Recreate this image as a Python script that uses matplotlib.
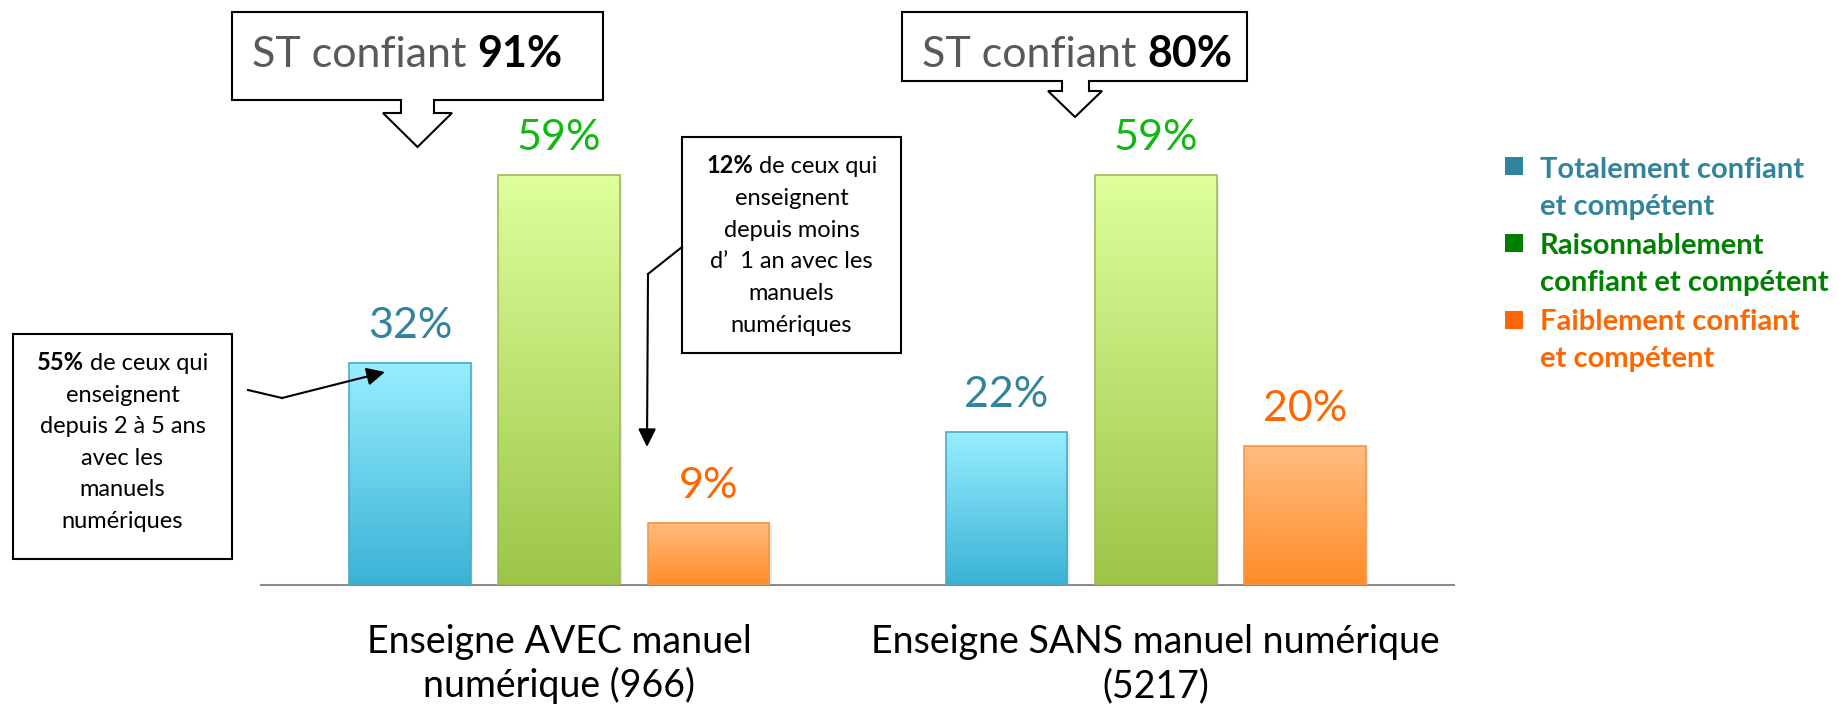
import matplotlib
matplotlib.use("Agg")
import matplotlib.pyplot as plt
import matplotlib.transforms as mtransforms
from matplotlib.patches import Polygon, Rectangle
from matplotlib.lines import Line2D
from matplotlib.colors import to_rgb
import numpy as np

plt.rcParams['font.family'] = ['Lato', 'DejaVu Sans']

W, H = 1839, 713

# --- data ---
groups = ["Enseigne AVEC manuel\nnumérique (966)",
          "Enseigne SANS manuel numérique\n(5217)"]
series = ["Totalement confiant\net compétent",
          "Raisonnablement\nconfiant et compétent",
          "Faiblement confiant\net compétent"]
totalement = [32, 22]
raisonnablement = [59, 59]
faiblement = [9, 20]
st_confiant = [91, 80]
note_avec_2_5 = ["55%", " de ceux qui", "enseignent", "depuis 2 à 5 ans", "avec les", "manuels", "numériques"]
note_avec_1 = ["12%", " de ceux qui", "enseignent", "depuis moins", "d’  1 an avec les", "manuels", "numériques"]

# --- styles ---
label_colors = ["#31849B", "#12B812", "#FF6600"]
legend_colors = ["#31849B", "#008000", "#FF6600"]
grad_top = ["#98EEFF", "#DEFF9C", "#FFBC80"]
grad_bottom = ["#3AB2D5", "#9CC548", "#FF8C28"]
edge_colors = ["#4BACC6", "#9BBB59", "#F79646"]

fig = plt.figure(figsize=(W / 100, H / 100), dpi=100)
# pixel coordinates measured from top-left of the image
px = mtransforms.Affine2D().scale(1 / W, -1 / H).translate(0, 1) + fig.transFigure
renderer = fig.canvas.get_renderer()

ax = fig.add_axes([261 / W, (H - 585) / H, (1454 - 261) / W, 486 / H])
for s in ["left", "right", "top"]:
    ax.spines[s].set_visible(False)
ax.spines["bottom"].set_color("#8C8C8C")
ax.spines["bottom"].set_linewidth(1.5)
ax.set_xticks([])
ax.set_yticks([])

x = np.arange(len(groups))
width = 0.204
offsets = [-0.25, 0.0, 0.25]
for i, vals in enumerate([totalement, raisonnablement, faiblement]):
    bars = ax.bar(x + offsets[i], vals, width, color="none",
                  edgecolor=edge_colors[i], linewidth=1.2, zorder=3)
    top, bot = np.array(to_rgb(grad_top[i])), np.array(to_rgb(grad_bottom[i]))
    t = np.linspace(0, 1, 256)[:, None, None]
    grad = top * (1 - t) + bot * t
    for b, v in zip(bars, vals):
        x0 = b.get_x()
        # soft shadow
        ax.add_patch(Rectangle((x0 + 0.004, -0.4), b.get_width(), v, color="#000000",
                               alpha=0.08, zorder=1, lw=0))
        ax.imshow(grad, extent=[x0, x0 + b.get_width(), 0, v], aspect="auto",
                  origin="upper", zorder=2, interpolation="bilinear")
        ax.annotate(f"{v}%", (x0 + b.get_width() / 2, v), xytext=(0, 18),
                    textcoords="offset points", ha="center", va="baseline",
                    fontsize=31, color=label_colors[i])
ax.set_xlim(-0.5, 1.5)
ax.set_ylim(0, 70)

# category labels
lab_tr = mtransforms.blended_transform_factory(ax.transData, px)
for xi, g in zip(x, groups):
    for k, line in enumerate(g.split("\n")):
        ax.text(xi, 653 + 44 * k, line, transform=lab_tr, ha="center", va="baseline",
                fontsize=27, color="#000000")


def text_width(s, size, weight="normal"):
    t = fig.text(0, 0, s, size=size, weight=weight)
    w = t.get_window_extent(renderer).width
    t.remove()
    return w


def rich(xp, yp, parts, size, ha="left"):
    sp = text_width("a a", size) - text_width("aa", size)
    meas = []
    for s, wt, c in parts:
        core = s.strip()
        meas.append(((len(s) - len(s.lstrip())) * sp,
                     text_width(core, size, wt),
                     (len(s) - len(s.rstrip())) * sp))
    total = sum(a + b + c for a, b, c in meas)
    cx = xp - total / 2 if ha == "center" else xp
    for (s, wt, c), (lead, w, trail) in zip(parts, meas):
        cx += lead
        fig.text(cx, yp, s.strip(), transform=px, size=size, weight=wt, color=c,
                 ha="left", va="baseline")
        cx += w + trail


def callout(left, right, top, bottom, s0, s1, stem_y, h0, h1, tip_y):
    mid = (h0 + h1) / 2
    pts = [(left, top), (right, top), (right, bottom), (s1, bottom), (s1, stem_y),
           (h1, stem_y), (mid, tip_y), (h0, stem_y), (s0, stem_y), (s0, bottom),
           (left, bottom)]
    fig.add_artist(Polygon(pts, closed=True, transform=px, facecolor="white",
                           edgecolor="black", linewidth=1.5))


# "ST confiant" callouts
callout(232, 603, 12, 100, 401, 434, 113, 383, 452, 147)
rich(252, 67, [("ST confiant ", "normal", "#595959"), (f"{st_confiant[0]}%", "bold", "black")], 31)
callout(902, 1247, 12, 81, 1062, 1089, 91, 1048, 1102, 117)
rich(922, 67, [("ST confiant ", "normal", "#595959"), (f"{st_confiant[1]}%", "bold", "black")], 31)


def note_box(left, top, right, bottom, lines, base0, step):
    fig.add_artist(Rectangle((left, bottom), right - left, top - bottom, transform=px,
                             facecolor="white", edgecolor="black", linewidth=1.5))
    cx = (left + right) / 2
    rich(cx, base0, [(lines[0], "bold", "black"), (lines[1], "normal", "black")], 17, ha="center")
    for k, line in enumerate(lines[2:]):
        fig.text(cx, base0 + step * (k + 1), line, transform=px, size=17, ha="center",
                 va="baseline", color="black")


note_box(13, 334, 232, 559, note_avec_2_5, 370, 31.6)
note_box(682, 137, 901, 353, note_avec_1, 173, 31.8)

# connector arrows
arrow_style = dict(arrowstyle="-|>,head_length=0.55,head_width=0.27", color="black",
                   lw=1.5, mutation_scale=20, shrinkA=0, shrinkB=0)
fig.add_artist(Line2D([248, 282], [390, 398], transform=px, color="black", lw=1.5))
ax.annotate("", xy=(385, 372), xytext=(282, 398), xycoords=px, textcoords=px,
            arrowprops=arrow_style, annotation_clip=False)
fig.add_artist(Line2D([682, 648], [247, 274], transform=px, color="black", lw=1.5))
ax.annotate("", xy=(647, 447), xytext=(648, 274), xycoords=px, textcoords=px,
            arrowprops=arrow_style, annotation_clip=False)

# legend
for i, name in enumerate(series):
    sq_top = 157 + 77 * i
    fig.add_artist(Rectangle((1505, sq_top + 18), 18, -18, transform=px,
                             facecolor=legend_colors[i], edgecolor="none"))
    for k, line in enumerate(name.split("\n")):
        fig.text(1540, 178 + 76 * i + 37.5 * k, line, transform=px, size=21,
                 weight="bold", color=legend_colors[i], ha="left", va="baseline")

fig.savefig("out.png", dpi=100)
